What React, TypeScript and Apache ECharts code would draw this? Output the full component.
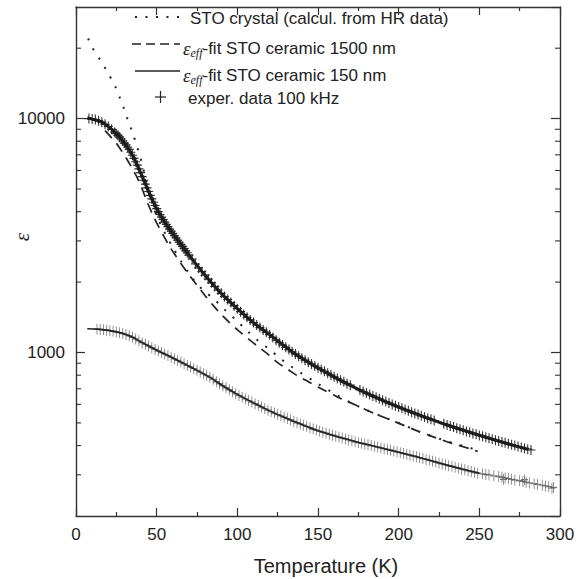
import React, { useEffect, useRef } from 'react';
import * as echarts from 'echarts';

// Axis ticks
const xTicks = [0, 50, 100, 150, 200, 250, 300];
const yMajorTicks = [1000, 10000];
const yMinorTicks = [300, 400, 500, 600, 700, 800, 900, 2000, 3000, 4000, 5000, 6000, 7000, 8000, 9000, 20000];

// Experimental data, upper set (100 kHz)
const upperT = [8, 10, 12, 14, 16, 18, 20, 22, 24,
  25, 26, 27, 28, 29, 30, 31, 32, 33, 34, 35, 36, 37, 38, 39, 40, 41, 42, 43, 44, 45, 46, 47, 48, 49, 50,
  51, 52, 53, 54, 55, 56, 57, 58, 59, 60, 61, 62, 63, 64, 65, 66, 67, 68, 69, 70,
  72, 74, 76, 78, 80, 82, 84, 86, 88, 90, 92, 94, 96, 98, 100, 102, 104, 106, 108, 110, 112, 114, 116, 118, 120,
  122, 124, 126, 128, 130, 132, 134, 136, 138, 140, 142, 144, 146, 148, 150,
  152, 154, 156, 158, 160, 162, 164, 166, 168, 170, 176, 178, 180, 182, 184, 186, 188, 190, 192, 194, 196, 198,
  200, 202, 204, 206, 208, 210, 212, 214, 216, 218, 220, 222, 228, 230, 232, 234, 236, 238, 240, 242, 244, 246, 248,
  250, 252, 254, 256, 258, 260, 262, 264, 266, 268, 270, 272, 274, 276, 278, 280, 282];
const upperEps = [10000, 9950, 9900, 9800, 9650, 9450, 9250, 9000, 8750,
  8620, 8480, 8330, 8180, 8020, 7860, 7720, 7560, 7380, 7180, 6970, 6760, 6540, 6320, 6100, 5880, 5650, 5450, 5250, 5060, 4880, 4700, 4540, 4390, 4250, 4120,
  4000, 3890, 3790, 3700, 3610, 3530, 3450, 3370, 3300, 3230, 3160, 3090, 3020, 2960, 2900, 2840, 2780, 2720, 2670, 2610,
  2510, 2390, 2300, 2215, 2140, 2060, 1985, 1915, 1850, 1790, 1735, 1685, 1635, 1585, 1540, 1495, 1455, 1415, 1378, 1342, 1310, 1278, 1248, 1220, 1192,
  1160, 1129, 1101, 1076, 1052, 1029, 1007, 986, 965, 946, 927, 909, 892, 876, 860,
  846, 831, 816, 801, 787, 774, 761, 749, 736, 725, 692, 681, 671, 661, 652, 643, 634, 625, 617, 608, 600, 592,
  585, 577, 570, 563, 556, 549, 543, 536, 530, 524, 518, 512, 496, 490, 485, 480, 475, 470, 465, 460, 456, 451, 447,
  442, 438, 434, 430, 426, 422, 418, 414, 411, 407, 403, 400, 396, 393, 389, 386, 383];

// Experimental data, lower set (100 kHz)
const lowerT = [13, 15, 17, 19, 21, 23, 25, 27, 29, 31, 33, 35, 37, 39, 41, 43, 45, 47, 49, 51, 53, 55, 57, 59, 61, 63, 65, 67, 69, 71, 73, 75, 77, 79, 81, 83, 85,
  87, 89, 91, 93, 95, 97, 99, 101, 103, 105, 107, 109, 111, 113, 115, 117, 119, 121, 123, 125, 127, 129, 131, 133, 135, 137, 139, 141, 143, 145, 147, 149,
  151, 153, 155, 157, 159, 161, 163, 165, 167, 169, 171, 173, 175, 177, 179, 181, 183, 185, 187, 189, 191, 193, 195, 197, 199,
  201, 203, 205, 207, 209, 211, 213, 215, 217, 219, 221, 223, 225, 227, 229, 231, 233, 235, 237, 239, 241, 243, 245, 247, 249,
  252, 254, 256, 259, 262, 264, 265, 266, 268, 270, 272, 275, 277, 278, 279, 281, 284, 286, 289, 291, 293, 295, 296];
const lowerEps = [1258, 1255, 1251, 1246, 1240, 1233, 1225, 1216, 1206, 1194, 1179, 1162, 1143, 1122, 1102, 1084, 1066, 1048, 1031, 1015, 1000, 985, 970, 955, 940, 925, 910, 895, 881, 867, 853, 839, 825, 811, 797, 783, 768,
  750, 735, 721, 707, 693, 680, 666, 655, 644, 633, 623, 614, 604, 595, 585, 576, 567, 559, 551, 543, 536, 529, 522, 515, 508, 501, 495, 489, 483, 477, 471, 466,
  461, 456, 452, 447, 443, 439, 435, 431, 427, 423, 419, 415, 412, 409, 406, 403, 400, 397, 394, 391, 388, 385, 382, 379, 376,
  373, 370, 367, 364, 361, 358, 355, 352, 349, 346, 343, 340, 337, 334, 331, 328, 326, 323, 320, 317, 315, 312, 310, 307, 305,
  303, 301, 300, 297, 295, 293, 287, 291, 289, 287, 285, 283, 281, 286, 279, 277, 275, 273, 271, 269, 267, 263, 265];

// STO crystal (calculated from HR data)
const crystalT = [7.5, 10, 12.5, 15, 17.5, 20, 22.5, 25, 27.5, 30, 32.5, 35, 37.5, 40, 42.5, 45, 47.5, 50, 55, 60, 65, 70, 75, 80, 86, 92, 99, 106, 113, 120, 126, 133, 140, 150, 160, 170, 180, 193, 203, 213, 227, 241, 250];
const crystalEps = [22000, 20200, 18900, 17800, 16700, 15600, 14500, 13400, 12100, 10900, 9700, 8750, 7700, 6800, 5800, 4950, 4350, 3850, 3250, 2820, 2460, 2180, 1960, 1820, 1680, 1530, 1380, 1240, 1120, 1030, 950, 875, 813, 735, 668, 612, 568, 522, 490, 458, 424, 397, 381];

// eps_eff fit, STO ceramic 1500 nm
const fit1500T = [18, 20, 23, 26, 29, 32, 35, 38, 41, 44, 47, 50, 54, 58, 62, 66, 70, 75, 80, 85, 90, 95, 101, 107, 114, 120, 125, 131, 137, 144, 150, 162, 174, 186, 198, 210, 221, 233, 245, 249];
const fit1500Eps = [8880, 8580, 8130, 7680, 7140, 6620, 6100, 5580, 5000, 4420, 3960, 3580, 3180, 2840, 2580, 2350, 2150, 1940, 1750, 1590, 1455, 1345, 1235, 1140, 1045, 970, 905, 850, 797, 750, 712, 646, 593, 545, 505, 467, 437, 409, 386, 378];

// eps_eff fit, STO ceramic 150 nm
const fit150LowT = [7, 13, 20, 25, 30, 35, 40, 45, 50, 55, 60, 65, 70, 75, 80, 85, 90, 100, 110, 120, 130, 140, 150, 165, 180, 195, 210, 225, 240, 250];
const fit150LowEps = [1263, 1259, 1243, 1225, 1200, 1162, 1112, 1066, 1023, 985, 948, 910, 874, 839, 804, 768, 728, 662, 609, 563, 525, 492, 463, 431, 405, 382, 360, 337, 317, 305];
const fit150UpT = [7, 10, 15, 20, 25, 30, 35, 40, 45, 50, 55, 60, 65, 70, 80, 90, 100, 110, 120, 135, 150, 170, 190, 210, 230, 250, 270, 280];
const fit150UpEps = [10050, 9950, 9720, 9250, 8620, 7860, 6970, 5880, 4880, 4120, 3610, 3230, 2900, 2610, 2140, 1790, 1540, 1342, 1192, 996, 860, 724, 625, 549, 490, 443, 403, 386];

const zip = (xs: number[], ys: number[]) => xs.map((x, i) => [x, ys[i]]);

const INK = '#222';
const FONT = 'Liberation Sans';
const CROSS = 'path://M-0.12,-1H0.12V-0.12H1V0.12H0.12V1H-0.12V0.12H-1V-0.12H-0.12Z';

export default function App() {
  const ref = useRef<HTMLDivElement>(null);
  useEffect(() => {
    const chart = echarts.init(ref.current!, null, { renderer: 'svg' });
    const axisLine = { show: true, onZero: false, lineStyle: { color: '#333', width: 1.4 } };
    const tickStyle = { color: '#333', width: 1.2 };
    const xCommon = {
      type: 'value', min: xTicks[0], max: xTicks[xTicks.length - 1], interval: 50,
      axisLine, splitLine: { show: false },
      axisTick: { show: true, inside: true, length: 8, lineStyle: tickStyle },
      minorTick: { show: true, splitNumber: 2, length: 4, lineStyle: tickStyle },
    };
    const yCommon = {
      type: 'log', logBase: 10, min: 200, max: 30000,
      axisLine, splitLine: { show: false },
      axisTick: { show: true, inside: true, length: 9, lineStyle: tickStyle },
      minorTick: { show: false },
    };
    const rich = {
      e: { fontFamily: 'Liberation Serif', fontStyle: 'italic', fontSize: 19, lineHeight: 22, fill: INK },
      s: { fontFamily: 'Liberation Serif', fontStyle: 'italic', fontSize: 12, lineHeight: 10, verticalAlign: 'bottom', fill: INK },
      n: { fontFamily: FONT, fontSize: 17, lineHeight: 22, fill: INK },
    };
    const rows = [17, 44, 71, 97];
    const option: any = {
      animation: false,
      backgroundColor: '#fff',
      grid: { left: 76, right: 16, top: 7, bottom: 63, containLabel: false, outerBoundsMode: 'none' },
      xAxis: [
        {
          ...xCommon, position: 'bottom',
          axisLabel: { fontSize: 17, color: INK, fontFamily: FONT, margin: 10 },
          name: 'Temperature (K)', nameLocation: 'middle', nameGap: 40,
          nameTextStyle: { fontSize: 20, color: INK, fontFamily: FONT, padding: [0, 0, 0, 16] },
        },
        { ...xCommon, position: 'top', axisLabel: { show: false } },
      ],
      yAxis: [
        {
          ...yCommon, position: 'left',
          axisLabel: {
            fontSize: 17, color: INK, fontFamily: FONT, margin: 11,
            showMinLabel: false, showMaxLabel: false,
            formatter: (v: number) => (yMajorTicks.includes(Math.round(v)) ? String(Math.round(v)) : ''),
          },
        },
        { ...yCommon, position: 'right', axisLabel: { show: false } },
      ],
      series: [
        {
          type: 'custom', silent: true, clip: false, z: 5,
          data: yMinorTicks.map((v) => [0, v]),
          renderItem: (params: any, api: any) => {
            const v = api.value(1);
            const l = api.coord([xTicks[0], v]);
            const r = api.coord([xTicks[xTicks.length - 1], v]);
            const st = { stroke: '#333', lineWidth: 1.1 };
            return {
              type: 'group',
              children: [
                { type: 'line', shape: { x1: l[0], y1: l[1], x2: l[0] + 5, y2: l[1] }, style: st },
                { type: 'line', shape: { x1: r[0] - 5, y1: r[1], x2: r[0], y2: r[1] }, style: st },
              ],
            };
          },
        },
        {
          name: 'STO crystal (calcul. from HR data)', type: 'line', data: zip(crystalT, crystalEps),
          showSymbol: false, smooth: 0.3, z: 2,
          lineStyle: { color: INK, width: 2, type: [2, 9] },
        },
        {
          name: 'fit 1500 nm', type: 'line', data: zip(fit1500T, fit1500Eps),
          showSymbol: false, smooth: 0.3, z: 2,
          lineStyle: { color: INK, width: 1.7, type: [10, 7] },
        },
        {
          name: 'exper. data 100 kHz', type: 'scatter', data: zip(upperT, upperEps),
          symbol: CROSS, symbolSize: [9, 10], z: 3,
          itemStyle: { color: '#1c1c1c', opacity: 0.9 },
        },
        {
          name: 'exper. data 100 kHz', type: 'scatter', data: zip(lowerT, lowerEps),
          symbol: CROSS, symbolSize: [7, 11], z: 3,
          itemStyle: { color: '#555', opacity: 0.75 },
        },
        {
          name: 'fit 150 nm', type: 'line', data: zip(fit150LowT, fit150LowEps),
          showSymbol: false, smooth: 0.3, z: 4,
          lineStyle: { color: INK, width: 1.6 },
        },
        {
          name: 'fit 150 nm', type: 'line', data: zip(fit150UpT, fit150UpEps),
          showSymbol: false, smooth: 0.3, z: 4,
          lineStyle: { color: '#1c1c1c', width: 3 },
        },
      ],
      graphic: [
        { type: 'text', x: 22, y: 237, rotation: Math.PI / 2, style: { text: 'ε', fontSize: 21, fontFamily: 'Liberation Serif', fontStyle: 'italic', fill: INK, align: 'center', verticalAlign: 'middle' } },
        { type: 'line', shape: { x1: 135, y1: rows[0], x2: 182, y2: rows[0] }, style: { stroke: INK, lineWidth: 2, lineDash: [2, 8.5] } },
        { type: 'text', x: 190, y: rows[0] + 1, style: { text: 'STO crystal (calcul. from HR data)', fontSize: 17, fontFamily: FONT, fill: INK, verticalAlign: 'middle' } },
        { type: 'line', shape: { x1: 132, y1: rows[1], x2: 180, y2: rows[1] }, style: { stroke: INK, lineWidth: 1.6, lineDash: [9, 5] } },
        { type: 'text', x: 183, y: rows[1] + 4, style: { text: '{e|ε}{s|eff}{n|-fit STO ceramic 1500 nm}', rich, verticalAlign: 'middle' } },
        { type: 'line', shape: { x1: 135, y1: rows[2], x2: 180, y2: rows[2] }, style: { stroke: INK, lineWidth: 1.6 } },
        { type: 'text', x: 183, y: rows[2] + 4, style: { text: '{e|ε}{s|eff}{n|-fit STO ceramic 150 nm}', rich, verticalAlign: 'middle' } },
        { type: 'line', shape: { x1: 155, y1: rows[3], x2: 166, y2: rows[3] }, style: { stroke: INK, lineWidth: 1.2 } },
        { type: 'line', shape: { x1: 160.5, y1: rows[3] - 6, x2: 160.5, y2: rows[3] + 6 }, style: { stroke: INK, lineWidth: 1.2 } },
        { type: 'text', x: 188, y: rows[3] + 1, style: { text: 'exper. data 100 kHz', fontSize: 17, fontFamily: FONT, fill: INK, verticalAlign: 'middle' } },
      ],
    };
    chart.setOption(option);
    return () => chart.dispose();
  }, []);
  return <div ref={ref} style={{ position: 'absolute', left: 0, top: 0, width: 576, height: 579 }} />;
}
